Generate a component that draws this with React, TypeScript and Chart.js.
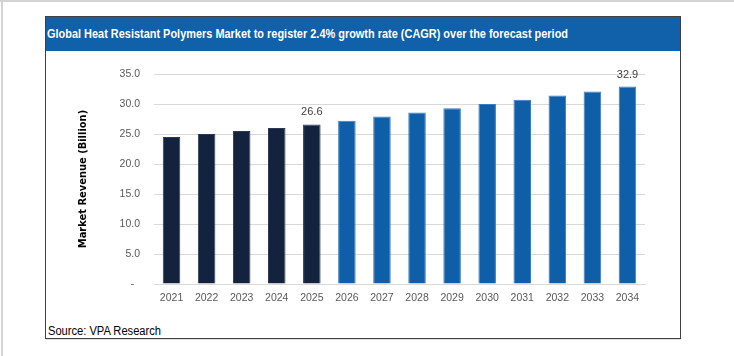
import React, { useEffect, useRef } from "react";
import { Chart, registerables } from "chart.js";

Chart.register(...registerables);

const years = ["2021", "2022", "2023", "2024", "2025", "2026", "2027", "2028", "2029", "2030", "2031", "2032", "2033", "2034"];
const revenue = [24.5, 25.0, 25.5, 26.0, 26.6, 27.2, 27.9, 28.6, 29.3, 30.0, 30.7, 31.4, 32.1, 32.9];
const historicYears = 5;
const labelledYears = ["2025", "2034"];
const yTicks = [0, 5, 10, 15, 20, 25, 30, 35];

const titleText = "Global Heat Resistant Polymers Market to register 2.4% growth rate (CAGR) over the forecast period";
const sourceText = "Source: VPA Research";

const DARK = "#13233d";
const BLUE = "#0f5ea8";

export default function App() {
  const canvasRef = useRef<HTMLCanvasElement>(null);
  const titleRef = useRef<HTMLSpanElement>(null);
  const sourceRef = useRef<HTMLSpanElement>(null);

  useEffect(() => {
    const fit = (el: HTMLSpanElement | null, target: number) => {
      if (!el) return;
      const w = el.getBoundingClientRect().width;
      if (w > 0) el.style.transform = `scaleX(${target / w})`;
    };
    fit(titleRef.current, 521);
    fit(sourceRef.current, 113);

    const valueLabels = {
      id: "valueLabels",
      afterDatasetsDraw(chart: any) {
        const ctx = chart.ctx;
        const meta = chart.getDatasetMeta(0);
        ctx.save();
        ctx.font = "11px 'Liberation Sans', sans-serif";
        ctx.fillStyle = "#404040";
        ctx.textAlign = "center";
        ctx.textBaseline = "middle";
        meta.data.forEach((bar: any, i: number) => {
          if (labelledYears.includes(years[i])) {
            ctx.fillText(revenue[i].toFixed(1), bar.x, bar.y - 12);
          }
        });
        ctx.restore();
      },
    };

    const chart = new Chart(canvasRef.current!, {
      type: "bar",
      data: {
        labels: years,
        datasets: [
          {
            data: revenue,
            backgroundColor: years.map((_, i) => (i < historicYears ? DARK : BLUE)),
            borderColor: years.map((_, i) => (i < historicYears ? "#2a3a55" : "#3a7cc0")),
            borderWidth: 1,
            barPercentage: 0.5,
            categoryPercentage: 1,
          },
        ],
      },
      options: {
        animation: false,
        responsive: false,
        maintainAspectRatio: false,
        layout: { padding: { top: 22, right: 34, left: 0, bottom: 0 } },
        plugins: { legend: { display: false }, tooltip: { enabled: false } },
        scales: {
          x: {
            grid: { display: false, drawTicks: false },
            border: { display: true, color: "#d9d9d9" },
            ticks: {
              color: "#595959",
              font: { family: "'Liberation Sans', sans-serif", size: 10.5 },
              padding: 8,
              maxRotation: 0,
              autoSkip: false,
            },
            afterFit(scale: any) {
              scale.height = 38;
            },
          },
          y: {
            min: 0,
            max: 35,
            afterBuildTicks(scale: any) {
              scale.ticks = yTicks.map((v) => ({ value: v }));
            },
            grid: { color: "#d9d9d9", drawTicks: false },
            border: { display: false },
            ticks: {
              color: "#595959",
              font: { family: "'Liberation Sans', sans-serif", size: 10.5 },
              padding: 14,
              callback: (v: any) => (Number(v) === 0 ? "-  " : Number(v).toFixed(1)),
            },
            title: {
              display: true,
              text: "Market Revenue (Billion)",
              color: "#000000",
              font: { family: "'Liberation Sans Narrow', 'DejaVu Sans Condensed', sans-serif", size: 11, weight: "bold" },
              padding: { top: 31, bottom: 0 },
            },
            afterFit(scale: any) {
              scale.width = 108;
            },
          },
        },
      },
      plugins: [valueLabels],
    });
    return () => chart.destroy();
  }, []);

  return (
    <div style={{ position: "fixed", left: 0, top: 0, width: 734, height: 356, background: "#ffffff", overflow: "hidden" }}>
      <div style={{ position: "absolute", left: 0, top: 0, width: 734, height: 2, background: "#d4d4d4" }} />
      <div style={{ position: "absolute", left: 1, top: 0, width: 2, height: 356, background: "#d4d4d4" }} />
      <div
        style={{
          position: "absolute",
          left: 45,
          top: 16,
          width: 634,
          height: 321,
          border: "1px solid #404040",
          background: "#ffffff",
        }}
      />
      <div style={{ position: "absolute", left: 46, top: 17, width: 634, height: 34, background: "#1060aa" }} />
      <span
        ref={titleRef}
        style={{
          position: "absolute",
          left: 47,
          top: 26,
          whiteSpace: "nowrap",
          color: "#ffffff",
          fontFamily: "'Liberation Sans Narrow', 'Liberation Sans', sans-serif",
          fontWeight: "bold",
          fontSize: 12.5,
          lineHeight: "16px",
          transformOrigin: "left center",
        }}
      >
        {titleText}
      </span>
      <canvas
        ref={canvasRef}
        width={633}
        height={270}
        style={{ position: "absolute", left: 46, top: 52, width: 633, height: 270 }}
      />
      <span
        ref={sourceRef}
        style={{
          position: "absolute",
          left: 48,
          top: 324,
          whiteSpace: "nowrap",
          color: "#000000",
          fontFamily: "'Liberation Sans', sans-serif",
          fontSize: 12,
          lineHeight: "15px",
          transformOrigin: "left center",
        }}
      >
        {sourceText}
      </span>
      <div style={{ position: "absolute", left: 46, top: 339, width: 635, height: 1, background: "#e0e0e0" }} />
    </div>
  );
}
